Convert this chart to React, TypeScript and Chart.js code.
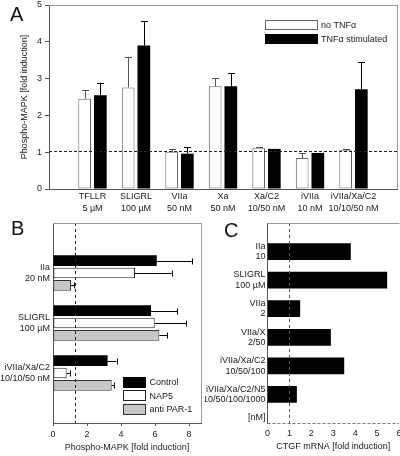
import React, { useEffect, useRef } from 'react';
import { Chart, registerables } from 'chart.js';

Chart.register(...registerables);

const FONT = "'Liberation Sans', Arial, Helvetica, sans-serif";
const INK = '#1a1a1a';
const AXIS = '#555555';
const FRAME = '#9a9a9a';

// ---------- Panel A data ----------
const aCategories: string[][] = [
  ['TFLLR', '5 µM'],
  ['SLIGRL', '100 µM'],
  ['VIIa', '50 nM'],
  ['Xa', '50 nM'],
  ['Xa/C2', '10/50 nM'],
  ['iVIIa', '10 nM'],
  ['iVIIa/Xa/C2', '10/10/50 nM'],
];
const aSeriesNames = ['no TNFα', 'TNFα stimulated'];
const aNoTnf = [2.45, 2.76, 1.01, 2.79, 1.11, 0.84, 1.05];
const aNoTnfErrTop = [2.68, 3.59, 1.08, 3.01, 1.14, 0.97, 1.08];
const aTnf = [2.55, 3.9, 0.96, 2.79, 1.09, 0.98, 2.71];
const aTnfErrTop = [2.89, 4.56, 1.13, 3.15, 1.09, 0.98, 3.44];
const aYTicks = [0, 1, 2, 3, 4, 5];
const aReference = 1.02;
const aYTitle = 'Phospho-MAPK [fold induction]';

// ---------- Panel B data ----------
const bCategories: string[][] = [
  ['IIa', '20 nM'],
  ['SLIGRL', '100 µM'],
  ['iVIIa/Xa/C2', '10/10/50 nM'],
];
const bSeriesNames = ['Control', 'NAP5', 'anti PAR-1'];
const bControl = [6.1, 5.76, 3.21];
const bControlErrTop = [8.15, 7.29, 3.74];
const bNap5 = [4.82, 5.98, 0.8];
const bNap5ErrTop = [6.98, 7.82, 1.0];
const bAntiPar1 = [1.06, 6.25, 3.45];
const bAntiPar1ErrTop = [1.24, 6.72, 3.59];
const bXTicks = [0, 2, 4, 6, 8];
const bReference = 1.3;
const bXTitle = 'Phospho-MAPK [fold induction]';

// ---------- Panel C data ----------
const cCategories: string[][] = [
  ['IIa', '10'],
  ['SLIGRL', '100 µM'],
  ['VIIa', '2'],
  ['VIIa/X', '2/50'],
  ['iVIIa/Xa/C2', '10/50/100'],
  ['iVIIa/Xa/C2/N5', '10/50/100/1000'],
];
const cUnitLabel = '[nM]';
const cValues = [3.8, 5.46, 1.49, 2.89, 3.5, 1.34];
const cXTicks = [0, 1, 2, 3, 4, 5, 6];
const cReference = 1;
const cXTitle = 'CTGF mRNA [fold induction]';

const padEnds = (arr: any[], fill: any) => [fill, ...arr, fill];
const font = (size: number, lineHeight = 1.2) => ({ family: FONT, size, lineHeight });
const zeroPad = (s: any) => {
  s.paddingTop = 0;
  s.paddingBottom = 0;
  s.paddingLeft = 0;
  s.paddingRight = 0;
};
const setTicks = (values: number[]) => (s: any) => {
  s.ticks = values.map((v) => ({ value: v }));
};

const decorPlugin = {
  id: 'decor',
  afterDatasetsDraw(chart: any, _args: any, opts: any) {
    const { ctx, chartArea: ca, scales } = chart;
    ctx.save();
    const horizontal = chart.options.indexAxis === 'y';
    const vScale = horizontal ? scales.x : scales.y;
    const cap = opts.capSize ?? 3.5;
    // error bars
    chart.data.datasets.forEach((ds: any, di: number) => {
      if (!ds.errTop) return;
      const meta = chart.getDatasetMeta(di);
      ctx.strokeStyle = ds.errColor || '#000';
      ctx.lineWidth = 1;
      ctx.setLineDash([]);
      meta.data.forEach((el: any, i: number) => {
        const top = ds.errTop[i];
        const val = ds.data[i];
        if (top == null || val == null) return;
        const p = vScale.getPixelForValue(top);
        ctx.beginPath();
        if (horizontal) {
          const y = Math.round(el.y) + 0.5;
          ctx.moveTo(el.x, y);
          ctx.lineTo(p, y);
          const px = Math.round(p) + 0.5;
          ctx.moveTo(px, y - cap);
          ctx.lineTo(px, y + cap);
        } else {
          const x = Math.round(el.x) + 0.5;
          ctx.moveTo(x, el.y);
          ctx.lineTo(x, p);
          const py = Math.round(p) + 0.5;
          ctx.moveTo(x - cap, py);
          ctx.lineTo(x + cap, py);
        }
        ctx.stroke();
      });
    });
    // reference line
    if (opts.refLine) {
      const r = opts.refLine;
      ctx.strokeStyle = r.color;
      ctx.lineWidth = 1;
      ctx.setLineDash(r.dash);
      ctx.beginPath();
      if (r.axis === 'y') {
        const y = Math.round(scales.y.getPixelForValue(r.value)) + 0.5;
        ctx.moveTo(ca.left, y);
        ctx.lineTo(ca.right, y);
      } else {
        const x = Math.round(scales.x.getPixelForValue(r.value)) + 0.5;
        ctx.moveTo(x, ca.top);
        ctx.lineTo(x, ca.bottom);
      }
      ctx.stroke();
      ctx.setLineDash([]);
    }
    // frame lines
    (opts.frame || []).forEach((f: any) => {
      ctx.strokeStyle = f.color;
      ctx.lineWidth = 1;
      ctx.setLineDash(f.dash || []);
      ctx.beginPath();
      if (f.side === 'top') {
        const y = Math.round(ca.top) + 0.5;
        ctx.moveTo(ca.left, y);
        ctx.lineTo(ca.right + 0.5, y);
      } else if (f.side === 'bottom') {
        const y = Math.round(ca.bottom) + 0.5;
        ctx.moveTo(ca.left, y);
        ctx.lineTo(ca.right, y);
      } else if (f.side === 'right') {
        const x = Math.round(ca.right) + 0.5;
        ctx.moveTo(x, ca.top);
        ctx.lineTo(x, ca.bottom);
      }
      ctx.stroke();
      ctx.setLineDash([]);
    });
    // legend
    if (opts.legend) {
      const L = opts.legend;
      ctx.font = `9px ${FONT}`;
      ctx.textBaseline = 'middle';
      ctx.textAlign = 'left';
      chart.data.datasets.forEach((ds: any, i: number) => {
        const y = L.y + i * L.pitch;
        ctx.fillStyle = ds.backgroundColor;
        ctx.fillRect(L.x, y, L.w, L.h);
        if (ds.borderWidth) {
          ctx.strokeStyle = ds.borderColor;
          ctx.lineWidth = 1;
          ctx.strokeRect(Math.round(L.x) + 0.5, Math.round(y) + 0.5, L.w - 1, L.h - 1);
        }
        ctx.fillStyle = INK;
        ctx.fillText(ds.label, L.x + L.w + L.textGap, y + L.h / 2 + 0.5);
      });
    }
    // panel letter
    if (opts.letter) {
      ctx.font = `20px ${FONT}`;
      ctx.fillStyle = '#111';
      ctx.textAlign = 'left';
      ctx.textBaseline = 'alphabetic';
      ctx.fillText(opts.letter.text, opts.letter.x, opts.letter.y);
    }
    ctx.restore();
  },
};

const configA = () => ({
  type: 'bar',
  data: {
    labels: padEnds(aCategories, ''),
    datasets: [
      {
        label: aSeriesNames[0],
        data: padEnds(aNoTnf, null),
        errTop: padEnds(aNoTnfErrTop, null),
        errColor: '#555',
        backgroundColor: '#ffffff',
        borderColor: '#666666',
        borderWidth: 1,
        borderSkipped: false,
        categoryPercentage: 0.72,
        barPercentage: 0.81,
      },
      {
        label: aSeriesNames[1],
        data: padEnds(aTnf, null),
        errTop: padEnds(aTnfErrTop, null),
        errColor: '#000',
        backgroundColor: '#000000',
        borderWidth: 0,
        categoryPercentage: 0.72,
        barPercentage: 0.81,
      },
    ],
  },
  options: {
    responsive: false,
    animation: false,
    layout: { padding: { top: 5, right: 3, left: 0, bottom: 0 } },
    plugins: {
      legend: { display: false },
      tooltip: { enabled: false },
      decor: {
        letter: { text: 'A', x: 10, y: 21 },
        frame: [
          { side: 'top', color: FRAME },
          { side: 'right', color: FRAME },
        ],
        refLine: { axis: 'y', value: aReference, color: '#222', dash: [3, 2] },
        legend: { x: 265, y: 20, w: 53, h: 10, pitch: 14, textGap: 3 },
        capSize: 3.5,
      },
    },
    scales: {
      x: {
        type: 'category',
        offset: false,
        grid: { display: false, drawTicks: false },
        border: { display: true, color: AXIS },
        ticks: { color: INK, font: font(9, 1.3), padding: 2, autoSkip: false, maxRotation: 0, minRotation: 0 },
        afterFit: (s: any) => {
          s.height = 29;
          zeroPad(s);
        },
      },
      y: {
        type: 'linear',
        min: 0,
        max: 5,
        grid: { display: true, drawOnChartArea: false, drawTicks: true, tickLength: 4, color: AXIS },
        border: { display: true, color: AXIS },
        ticks: { color: INK, font: font(9), padding: 3 },
        afterBuildTicks: setTicks(aYTicks),
        title: { display: true, text: aYTitle, color: INK, font: font(9), padding: { top: 19, bottom: 0 } },
        afterFit: (s: any) => {
          s.width = 49;
          zeroPad(s);
        },
      },
    },
  },
  plugins: [decorPlugin],
});

const configB = () => ({
  type: 'bar',
  data: {
    labels: padEnds(bCategories, ''),
    datasets: [
      {
        label: bSeriesNames[0],
        data: padEnds(bControl, null),
        errTop: padEnds(bControlErrTop, null),
        errColor: '#000',
        backgroundColor: '#000000',
        borderWidth: 0,
        categoryPercentage: 0.74,
        barPercentage: 0.86,
      },
      {
        label: bSeriesNames[1],
        data: padEnds(bNap5, null),
        errTop: padEnds(bNap5ErrTop, null),
        errColor: '#000',
        backgroundColor: '#ffffff',
        borderColor: '#222222',
        borderWidth: 1,
        borderSkipped: false,
        categoryPercentage: 0.74,
        barPercentage: 0.86,
      },
      {
        label: bSeriesNames[2],
        data: padEnds(bAntiPar1, null),
        errTop: padEnds(bAntiPar1ErrTop, null),
        errColor: '#000',
        backgroundColor: '#c6c6c6',
        borderColor: '#333333',
        borderWidth: 1,
        borderSkipped: false,
        categoryPercentage: 0.74,
        barPercentage: 0.86,
      },
    ],
  },
  options: {
    indexAxis: 'y',
    responsive: false,
    animation: false,
    layout: { padding: { top: 8, right: 4, left: 0, bottom: 0 } },
    plugins: {
      legend: { display: false },
      tooltip: { enabled: false },
      decor: {
        letter: { text: 'B', x: 11, y: 20 },
        frame: [
          { side: 'top', color: FRAME },
          { side: 'right', color: FRAME },
        ],
        refLine: { axis: 'x', value: bReference, color: '#222', dash: [3, 3] },
        legend: { x: 123, y: 162, w: 23, h: 11, pitch: 13.3, textGap: 3.5 },
        capSize: 3,
      },
    },
    scales: {
      y: {
        type: 'category',
        offset: false,
        grid: { display: false, drawTicks: false },
        border: { display: true, color: AXIS },
        ticks: { color: INK, font: font(9, 1.25), padding: 3, autoSkip: false },
        afterFit: (s: any) => {
          s.width = 53;
          zeroPad(s);
        },
      },
      x: {
        type: 'linear',
        min: 0,
        max: 8.7,
        grid: { display: true, drawOnChartArea: false, drawTicks: true, tickLength: 3, color: AXIS },
        border: { display: true, color: AXIS },
        ticks: { color: INK, font: font(9), padding: 3.5 },
        afterBuildTicks: setTicks(bXTicks),
        title: { display: true, text: bXTitle, color: INK, font: font(9), padding: { top: 0, bottom: 3.5 } },
        afterFit: (s: any) => {
          s.height = 33;
          zeroPad(s);
        },
      },
    },
  },
  plugins: [decorPlugin],
});

const configC = () => ({
  type: 'bar',
  data: {
    labels: ['', ...cCategories, [cUnitLabel, '']],
    datasets: [
      {
        label: 'CTGF',
        data: padEnds(cValues, null),
        backgroundColor: '#000000',
        borderWidth: 0,
        categoryPercentage: 0.8,
        barPercentage: 0.73,
      },
    ],
  },
  options: {
    indexAxis: 'y',
    responsive: false,
    animation: false,
    layout: { padding: { top: 8, right: 1, left: 0, bottom: 0 } },
    plugins: {
      legend: { display: false },
      tooltip: { enabled: false },
      decor: {
        letter: { text: 'C', x: 19, y: 21.5 },
        frame: [
          { side: 'top', color: FRAME },
          { side: 'bottom', color: '#777', dash: [3, 2] },
        ],
        refLine: { axis: 'x', value: cReference, color: '#555', dash: [3, 3] },
      },
    },
    scales: {
      y: {
        type: 'category',
        offset: false,
        grid: { display: false, drawTicks: false },
        border: { display: true, color: AXIS },
        ticks: { color: INK, font: font(9, 1.15), padding: 2, autoSkip: false },
        afterFit: (s: any) => {
          s.width = 62.5;
          zeroPad(s);
        },
      },
      x: {
        type: 'linear',
        min: 0,
        max: 6,
        grid: { display: false, drawTicks: false },
        border: { display: false },
        ticks: { color: INK, font: font(9), padding: 5 },
        afterBuildTicks: setTicks(cXTicks),
        title: { display: true, text: cXTitle, color: INK, font: font(9), padding: { top: 0, bottom: 3.8 } },
        afterFit: (s: any) => {
          s.height = 33;
          zeroPad(s);
        },
      },
    },
  },
  plugins: [decorPlugin],
});

function Panel({ make, left, top, width, height }: any) {
  const ref = useRef<HTMLCanvasElement>(null);
  useEffect(() => {
    const chart = new Chart(ref.current as HTMLCanvasElement, make() as any);
    return () => chart.destroy();
  }, []);
  return (
    <canvas
      ref={ref}
      width={width}
      height={height}
      style={{ position: 'absolute', left, top, width, height }}
    />
  );
}

export default function App() {
  return (
    <div
      style={{
        position: 'absolute',
        left: 0,
        top: 0,
        width: 400,
        height: 456,
        background: '#ffffff',
        overflow: 'hidden',
      }}
    >
      <Panel make={configA} left={0} top={0} width={400} height={218} />
      <Panel make={configB} left={0} top={215} width={205} height={241} />
      <Panel make={configC} left={205} top={215} width={195} height={241} />
    </div>
  );
}
